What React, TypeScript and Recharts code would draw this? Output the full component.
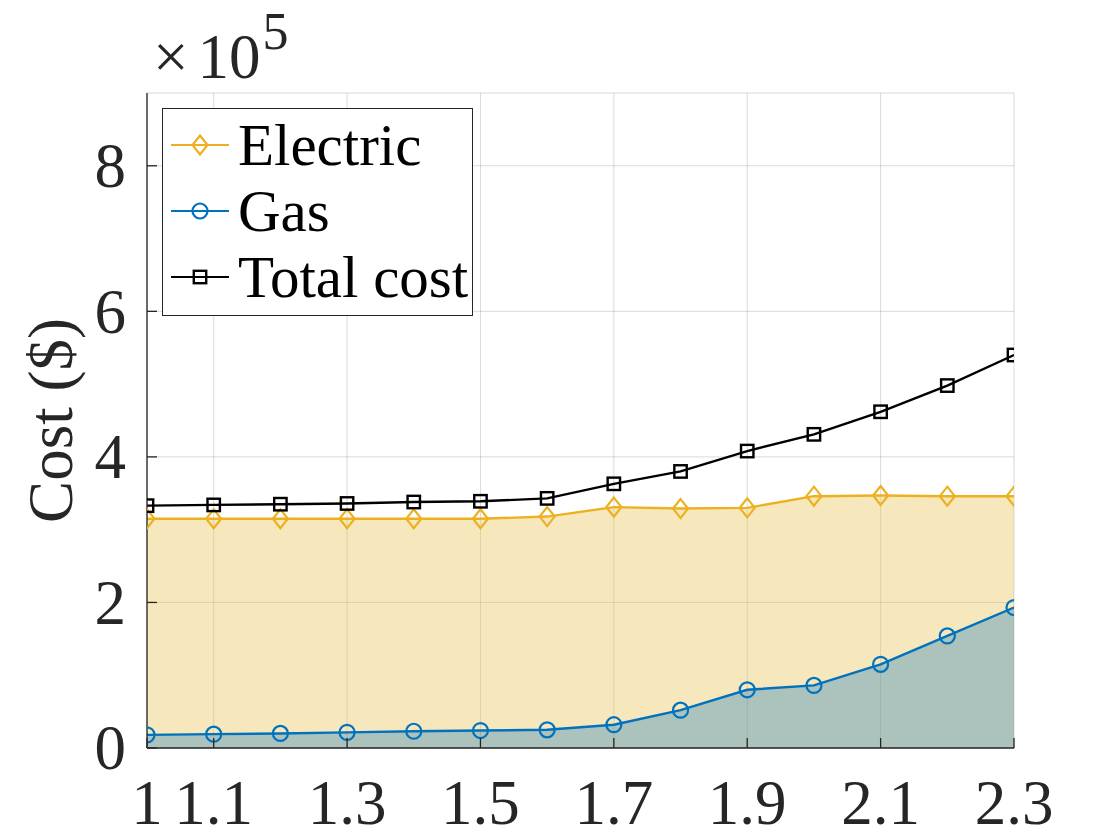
import React from "react";
import { Area, CartesianGrid, ComposedChart, Line, XAxis, YAxis } from "recharts";

const loadFactor = [1, 1.1, 1.2, 1.3, 1.4, 1.5, 1.6, 1.7, 1.8, 1.9, 2.0, 2.1, 2.2, 2.3];
const electricCost = [3.15e5, 3.15e5, 3.15e5, 3.15e5, 3.15e5, 3.15e5, 3.18e5, 3.31e5, 3.29e5, 3.3e5, 3.46e5, 3.47e5, 3.46e5, 3.46e5];
const gasCost = [0.18e5, 0.19e5, 0.2e5, 0.215e5, 0.23e5, 0.24e5, 0.25e5, 0.32e5, 0.52e5, 0.8e5, 0.86e5, 1.15e5, 1.54e5, 1.93e5];
const totalCost = [3.33e5, 3.34e5, 3.35e5, 3.36e5, 3.38e5, 3.39e5, 3.43e5, 3.63e5, 3.8e5, 4.08e5, 4.31e5, 4.62e5, 4.98e5, 5.4e5];

const xTicks = [1, 1.1, 1.3, 1.5, 1.7, 1.9, 2.1, 2.3];
const yTicks = [0, 2e5, 4e5, 6e5, 8e5];

const seriesNames = ["Electric", "Gas", "Total cost"];

const ELECTRIC = "#EDB120";
const GAS = "#0072BD";
const TOTAL = "#000000";
const AXIS = "#262626";
const FONT = "'Liberation Serif', 'Times New Roman', serif";
const TICK_FONT = 63;
const TICK_LEN = 10;

const data = loadFactor.map((x, i) => ({
  x,
  electric: electricCost[i],
  gas: gasCost[i],
  total: totalCost[i],
}));

const fmtX = (v: number) => `${Math.round(v * 10) / 10}`;
const fmtY = (v: number) => `${Math.round(v / 1e5)}`;

type TickProps = { x: number; y: number; payload: { value: number } };

function BottomTick({ x, y, payload }: TickProps) {
  return (
    <g>
      <line x1={x} y1={y} x2={x} y2={y - TICK_LEN} stroke={AXIS} strokeWidth={1.3} />
      <text x={x} y={y + 76} textAnchor="middle" fill={AXIS} fontFamily={FONT} fontSize={TICK_FONT}>
        {fmtX(payload.value)}
      </text>
    </g>
  );
}

function TopTick({ x, y }: TickProps) {
  return <line x1={x} y1={y} x2={x} y2={y + TICK_LEN} stroke={AXIS} strokeWidth={1.3} />;
}

function LeftTick({ x, y, payload }: TickProps) {
  return (
    <g>
      <line x1={x} y1={y} x2={x + TICK_LEN} y2={y} stroke={AXIS} strokeWidth={1.3} />
      <text x={x - 21} y={y} dy="0.34em" textAnchor="end" fill={AXIS} fontFamily={FONT} fontSize={TICK_FONT}>
        {fmtY(payload.value)}
      </text>
    </g>
  );
}

function RightTick({ x, y }: TickProps) {
  return <line x1={x} y1={y} x2={x - TICK_LEN} y2={y} stroke={AXIS} strokeWidth={1.3} />;
}

function Diamond({ cx, cy }: { cx: number; cy: number }) {
  return (
    <path
      d={`M${cx} ${cy - 9.5}L${cx + 7.5} ${cy}L${cx} ${cy + 9.5}L${cx - 7.5} ${cy}Z`}
      fill="none"
      stroke={ELECTRIC}
      strokeWidth={2.2}
    />
  );
}

function Circle({ cx, cy }: { cx: number; cy: number }) {
  return <circle cx={cx} cy={cy} r={7.5} fill="none" stroke={GAS} strokeWidth={2.2} />;
}

function Square({ cx, cy }: { cx: number; cy: number }) {
  return <rect x={cx - 6.2} y={cy - 6.2} width={12.4} height={12.4} fill="none" stroke={TOTAL} strokeWidth={2.4} />;
}

const markers = [Diamond, Circle, Square];
const colors = [ELECTRIC, GAS, TOTAL];

const dotOf = (Marker: typeof Diamond) => (props: any) => {
  const { cx, cy, index } = props;
  if (cx == null || cy == null) return <g key={index} />;
  return <Marker key={index} cx={cx} cy={cy} />;
};

function LegendBox() {
  return (
    <div
      style={{
        position: "absolute",
        left: 162,
        top: 108,
        width: 309,
        height: 203,
        border: `1.3px solid ${AXIS}`,
        background: "#fff",
        paddingTop: 3,
        boxSizing: "content-box",
      }}
    >
      {seriesNames.map((name, i) => {
        const Marker = markers[i];
        return (
          <div key={name} style={{ height: 66, display: "flex", alignItems: "center" }}>
            <svg width={60} height={30} style={{ marginLeft: 8, flexShrink: 0 }}>
              <line x1={0} y1={15} x2={58} y2={15} stroke={colors[i]} strokeWidth={2} />
              <Marker cx={29} cy={15} />
            </svg>
            <span
              style={{
                marginLeft: 7,
                fontFamily: FONT,
                fontSize: 59,
                lineHeight: "66px",
                color: "#000",
                whiteSpace: "nowrap",
              }}
            >
              {name}
            </span>
          </div>
        );
      })}
    </div>
  );
}

export default function App() {
  return (
    <div style={{ position: "absolute", left: 0, top: 0, width: 1120, height: 840, background: "#fff" }}>
      <ComposedChart width={1120} height={840} data={data} margin={{ top: 93, right: 106, bottom: 0, left: 0 }}>
        <XAxis
          dataKey="x"
          type="number"
          domain={[1, 2.3]}
          ticks={xTicks}
          interval={0}
          height={92}
          tickSize={0}
          tickMargin={0}
          tickLine={false}
          axisLine={{ stroke: AXIS, strokeWidth: 1.3 }}
          tick={BottomTick as any}
          allowDataOverflow
        />
        <XAxis
          xAxisId="top"
          orientation="top"
          dataKey="x"
          type="number"
          domain={[1, 2.3]}
          ticks={xTicks}
          interval={0}
          height={0}
          tickSize={0}
          tickMargin={0}
          tickLine={false}
          axisLine={{ stroke: AXIS, strokeWidth: 1.3 }}
          tick={TopTick as any}
        />
        <YAxis
          type="number"
          domain={[0, 9e5]}
          ticks={yTicks}
          interval={0}
          width={147}
          tickSize={0}
          tickMargin={0}
          tickLine={false}
          axisLine={{ stroke: AXIS, strokeWidth: 1.3 }}
          tick={LeftTick as any}
          label={{
            value: "Cost ($)",
            angle: -90,
            position: "insideLeft",
            offset: 50,
            style: { textAnchor: "middle", fontFamily: FONT, fontSize: 63, fill: AXIS },
          }}
        />
        <YAxis
          yAxisId="right"
          orientation="right"
          type="number"
          domain={[0, 9e5]}
          ticks={yTicks}
          interval={0}
          width={0}
          tickSize={0}
          tickMargin={0}
          tickLine={false}
          axisLine={{ stroke: AXIS, strokeWidth: 1.3 }}
          tick={RightTick as any}
        />
        <Area type="linear" dataKey="electric" stroke="none" fill="#E9C25A" fillOpacity={0.4} dot={false} activeDot={false} isAnimationActive={false} />
        <Area type="linear" dataKey="gas" stroke="none" fill={GAS} fillOpacity={0.3} dot={false} activeDot={false} isAnimationActive={false} />
        <CartesianGrid stroke="#000" strokeOpacity={0.15} strokeDasharray="0" strokeWidth={1} />
        <Line type="linear" dataKey="electric" stroke={ELECTRIC} strokeWidth={2.4} dot={dotOf(Diamond)} activeDot={false} isAnimationActive={false} />
        <Line type="linear" dataKey="gas" stroke={GAS} strokeWidth={2.4} dot={dotOf(Circle)} activeDot={false} isAnimationActive={false} />
        <Line type="linear" dataKey="total" stroke={TOTAL} strokeWidth={2.4} dot={dotOf(Square)} activeDot={false} isAnimationActive={false} />
      </ComposedChart>
      <svg width={400} height={92} style={{ position: "absolute", left: 0, top: 0 }}>
        <text x={153} y={78} fontFamily={FONT} fontSize={TICK_FONT} fill={AXIS}>
          ×
          <tspan dx={9}>10</tspan>
          <tspan dx={2} dy={-29} fontSize={52}>
            5
          </tspan>
        </text>
      </svg>
      <LegendBox />
    </div>
  );
}
